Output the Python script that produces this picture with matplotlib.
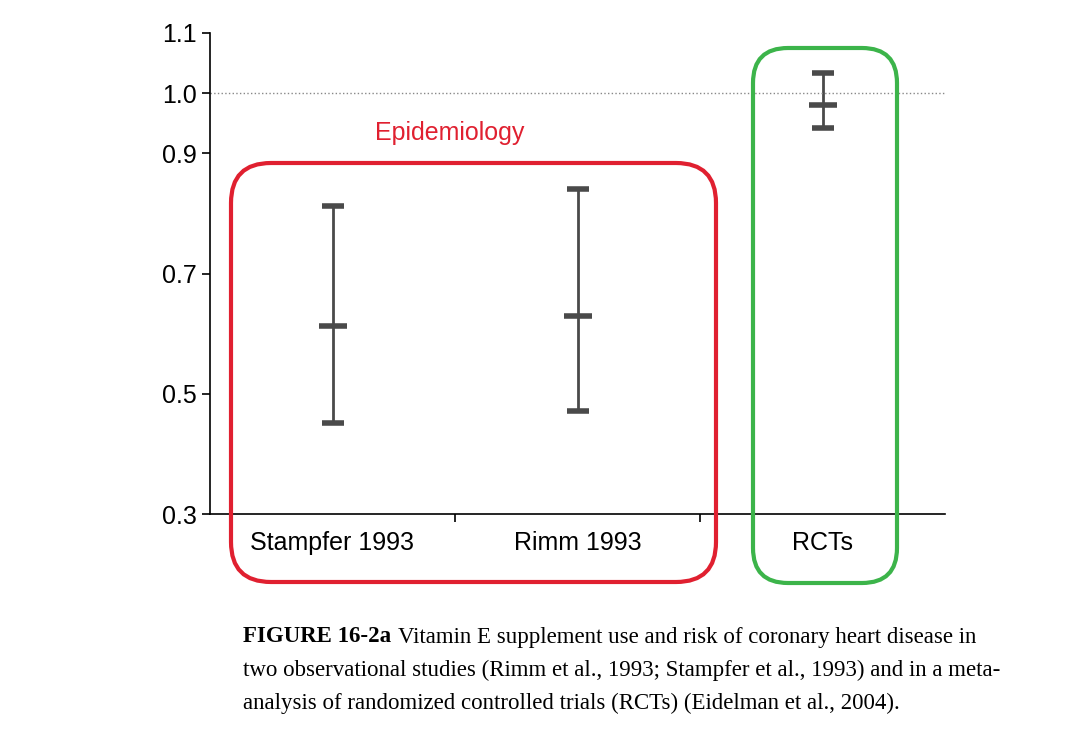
import matplotlib.pyplot as plt
from matplotlib.patches import FancyBboxPatch
from matplotlib.transforms import IdentityTransform

# Study estimates (relative risk with 95% CI)
studies = ['Stampfer 1993', 'Rimm 1993', 'RCTs']
point = [0.613, 0.629, 0.98]
lower = [0.451, 0.471, 0.942]
upper = [0.812, 0.841, 1.034]
yticks = [0.3, 0.5, 0.7, 0.9, 1.0, 1.1]

plt.rcParams['font.family'] = ['Liberation Sans', 'DejaVu Sans']
W, H = 1069, 732
fig = plt.figure(figsize=(W / 100, H / 100), dpi=100)
ax = fig.add_axes([210 / W, 1 - 514 / H, 735 / W, 481 / H])

xs = [0.5, 1.5, 2.5]
err = [[p - l for p, l in zip(point, lower)], [u - p for p, u in zip(point, upper)]]
ax.errorbar(xs, point, yerr=err, fmt='_', color='#4a4a4a', markersize=20, mew=4,
            elinewidth=2, capsize=8, capthick=4)
ax.axhline(1.0, color='#888888', linestyle=':', linewidth=1)

ax.set_xlim(0, 3)
ax.set_ylim(0.3, 1.1)
ax.set_yticks(yticks)
ax.set_yticklabels(['%.1f' % v for v in yticks], fontsize=18)
ax.set_xticks([1, 2])
ax.set_xticklabels([])
ax.tick_params(direction='out', length=6, width=1.2)
for i, name in enumerate(studies):
    ax.text(xs[i], -0.035, name, transform=ax.get_xaxis_transform(),
            ha='center', va='top', fontsize=18)
for s in ['top', 'right']:
    ax.spines[s].set_visible(False)
ax.spines['left'].set_linewidth(1.2)
ax.spines['bottom'].set_linewidth(1.2)

# Highlight boxes in pixel coordinates (y measured from top)
def box(x0, y0, x1, y1, color, r):
    p = FancyBboxPatch((x0 + r, H - y1 + r), x1 - x0 - 2 * r, y1 - y0 - 2 * r,
                       boxstyle='round,pad=%d' % r, transform=IdentityTransform(),
                       fill=False, edgecolor=color, linewidth=3, clip_on=False)
    fig.patches.append(p)

box(231, 163, 716, 582, '#e02030', 40)
box(753, 48, 897, 583, '#3cb44a', 35)
fig.text(450 / W, 1 - 133 / H, 'Epidemiology', color='#e02030', fontsize=18,
         ha='center', va='center')

# Caption
serif = ['Liberation Serif', 'DejaVu Serif']
fs = 16.5
bold = fig.text(243 / W, 1 - 637 / H, 'FIGURE 16-2a', family=serif, fontweight='bold',
                fontsize=fs, va='center')
fig.canvas.draw()
bb = bold.get_window_extent(fig.canvas.get_renderer())
fig.text((bb.x1 + 7) / W, 1 - 637 / H, 'Vitamin E supplement use and risk of coronary heart disease in',
         family=serif, fontsize=fs, va='center')
fig.text(243 / W, 1 - 670 / H, 'two observational studies (Rimm et al., 1993; Stampfer et al., 1993) and in a meta-',
         family=serif, fontsize=fs, va='center')
fig.text(243 / W, 1 - 703 / H, 'analysis of randomized controlled trials (RCTs) (Eidelman et al., 2004).',
         family=serif, fontsize=fs, va='center')

fig.savefig('out.png', dpi=100)
